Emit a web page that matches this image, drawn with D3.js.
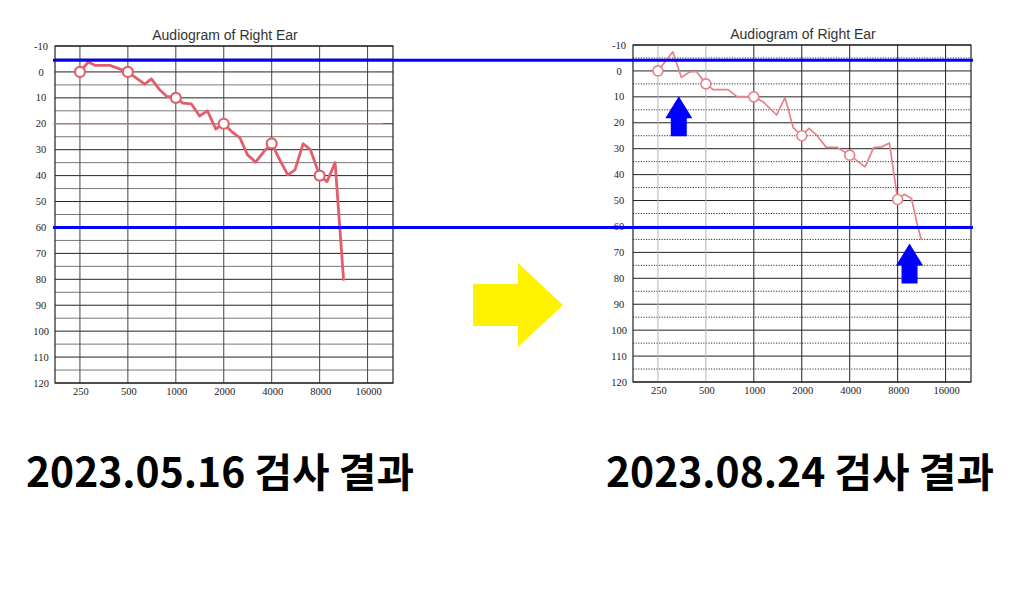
<!DOCTYPE html>
<html><head><meta charset="utf-8">
<script src="https://cdn.jsdelivr.net/npm/d3@7/dist/d3.min.js"></script>
<style>body{margin:0;background:#fff}svg{display:block}</style>
</head><body>
<svg id="c" width="1017" height="600"></svg>
<script>
// ---------- data ----------
const octaveFreqs = [250, 500, 1000, 2000, 4000, 8000, 16000];
const octaveLabels = ["250", "500", "1000", "2000", "4000", "8000", "16000"];
const dbTicks = [-10, 0, 10, 20, 30, 40, 50, 60, 70, 80, 90, 100, 110, 120];
const minorDbTicks = [-5, 5, 15, 25, 35, 45, 55, 65, 75, 85, 95, 105, 115];
const titles = ["Audiogram of Right Ear", "Audiogram of Right Ear"];
const captions = ["2023.05.16 검사 결과", "2023.08.24 검사 결과"];

// 2023.05.16 curve
const mayFreq = [250, 282, 312, 385, 500, 637, 702, 795, 875, 1000, 1110, 1250, 1410, 1580, 1780, 2000, 2240, 2520, 2820, 3170, 3600, 4000, 4500, 5050, 5600, 6300, 7000, 8000, 8900, 10000, 11300];
const mayDb   = [0, -3.8, -2.5, -2.5, 0, 4.7, 2.7, 7, 9.4, 10, 12, 12.3, 17, 15, 22, 20, 23, 25.3, 32, 34.8, 30.5, 27.6, 34, 39.7, 37.8, 27.7, 30, 40, 42.3, 35, 80];
const mayTestFreq = [250, 500, 1000, 2000, 4000, 8000];
const mayTestDb   = [0, 0, 10, 20, 27.6, 40];
const mayRefDb = [20];

// 2023.08.24 curve
const augFreq = [250, 310, 351, 395, 436, 500, 555, 690, 780, 1000, 1150, 1390, 1570, 1770, 2000, 2220, 2500, 2850, 3340, 4000, 5000, 5650, 6370, 7100, 8000, 8800, 9770, 10600, 11240];
const augDb   = [0, -7.4, 2.5, 0.4, 0.2, 5, 7.2, 7.2, 9.8, 10, 12, 17, 10.3, 22, 25, 22.2, 25, 29.5, 29.5, 32.5, 37, 29.6, 29.3, 27.8, 49.6, 47.6, 49.2, 59, 65];
const augTestFreq = [250, 500, 1000, 2000, 4000, 8000];
const augTestDb   = [0, 5, 10, 25, 32.5, 49.6];

// annotations
const markerDb = [-4.5, 60];          // blue reference lines (left chart scale)
const arrowFreq = [338, 9500];        // blue arrows on right chart
const arrowTipDb = [9.8, 66.6];

// ---------- layout ----------
const svg = d3.select("#c");
const panels = [
  {left: 55, top: 46, w: 338, h: 337, title: titles[0], caption: captions[0],
   freq: mayFreq, db: mayDb, tf: mayTestFreq, tdb: mayTestDb,
   line: "#e35d6c", lw: 2.8, cw: 2.2, minorDash: null, refs: mayRefDb, capX: 26},
  {left: 633, top: 45, w: 338, h: 337, title: titles[1], caption: captions[1],
   freq: augFreq, db: augDb, tf: augTestFreq, tdb: augTestDb,
   line: "#e8808a", lw: 1.7, cw: 1.6, minorDash: "1.2,1.4", refs: [], capX: 606}
];

panels.forEach((p, i) => {
  const x = d3.scaleLog().base(2)
    .domain([250 / Math.pow(2, 0.52), 16000 * Math.pow(2, 0.53)])
    .range([p.left, p.left + p.w]);
  const y = d3.scaleLinear().domain([-10, 120]).range([p.top, p.top + p.h]);
  p.x = x; p.y = y;
  const g = svg.append("g");

  // minor horizontal grid
  g.selectAll(".mn").data(minorDbTicks).join("line")
    .attr("x1", p.left).attr("x2", p.left + p.w)
    .attr("y1", d => y(d)).attr("y2", d => y(d))
    .attr("stroke", i === 0 ? "#555" : "#333")
    .attr("stroke-width", i === 0 ? 0.8 : 1)
    .attr("stroke-dasharray", p.minorDash);
  // major horizontal grid
  g.selectAll(".mj").data(dbTicks).join("line")
    .attr("x1", p.left).attr("x2", p.left + p.w)
    .attr("y1", d => y(d)).attr("y2", d => y(d))
    .attr("stroke", "#222").attr("stroke-width", 1);
  // vertical grid
  g.selectAll(".vg").data(octaveFreqs).join("line")
    .attr("x1", d => x(d)).attr("x2", d => x(d))
    .attr("y1", p.top).attr("y2", p.top + p.h)
    .attr("stroke", (d, k) => i === 1 && k < 2 ? "#b5b5b5" : (i === 0 ? "#444" : "#222"))
    .attr("stroke-width", 1);
  // frame
  g.append("rect").attr("x", p.left).attr("y", p.top)
    .attr("width", p.w).attr("height", p.h)
    .attr("fill", "none").attr("stroke", "#222").attr("stroke-width", 1.2);

  // reference line (thin red)
  g.selectAll(".ref").data(p.refs).join("line")
    .attr("x1", p.left - 2).attr("x2", x(20000))
    .attr("y1", d => y(d)).attr("y2", d => y(d))
    .attr("stroke", "#d9868e").attr("stroke-width", 1.1);

  // y tick labels
  g.selectAll(".yl").data(dbTicks).join("text")
    .attr("x", p.left - 14).attr("y", d => y(d) + 3.6)
    .attr("text-anchor", "middle")
    .attr("font-family", "Liberation Serif, serif").attr("font-size", 10.5)
    .attr("fill", "#222").text(d => d);
  // x tick labels
  g.selectAll(".xl").data(octaveFreqs).join("text")
    .attr("x", d => x(d) + 1).attr("y", p.top + p.h + 12)
    .attr("text-anchor", "middle")
    .attr("font-family", "Liberation Serif, serif").attr("font-size", 10.5)
    .attr("fill", "#222").text((d, k) => octaveLabels[k]);

  // title
  g.append("text").attr("x", p.left + p.w / 2 + 1).attr("y", p.top - 6)
    .attr("text-anchor", "middle")
    .attr("font-family", "Liberation Sans, Arial, sans-serif").attr("font-size", 14)
    .attr("fill", "#333").text(p.title);

  // curve
  const pts = p.freq.map((f, k) => [f, p.db[k]]);
  g.append("path").datum(pts)
    .attr("d", d3.line().x(d => x(d[0])).y(d => y(d[1])))
    .attr("fill", "none").attr("stroke", p.line)
    .attr("stroke-width", p.lw).attr("stroke-linejoin", "round").attr("stroke-linecap", "round");
  // test markers
  g.selectAll(".mk").data(p.tf).join("circle")
    .attr("cx", d => x(d)).attr("cy", (d, k) => y(p.tdb[k]))
    .attr("r", 5).attr("fill", "#fff")
    .attr("stroke", p.line).attr("stroke-width", p.cw);

  // caption
  svg.append("text").attr("x", p.capX).attr("y", 487)
    .attr("font-family", "Noto Sans CJK KR, sans-serif").attr("font-weight", 700)
    .attr("font-size", 40).attr("fill", "#000")
    .attr("textLength", 388).attr("lengthAdjust", "spacingAndGlyphs")
    .text(p.caption);
});

// blue reference lines across both charts
const L = panels[0], R = panels[1];
svg.selectAll(".blue").data(markerDb).join("line")
  .attr("x1", L.left - 2).attr("x2", R.left + R.w + 2)
  .attr("y1", d => L.y(d)).attr("y2", d => L.y(d))
  .attr("stroke", "#0000ff").attr("stroke-width", 3);

// blue up-arrows on right chart
const aW = 27, sW = 16, hH = 22, tot = 40;
svg.selectAll(".arr").data(arrowFreq).join("path")
  .attr("transform", (d, k) => `translate(${R.x(d)},${R.y(arrowTipDb[k])})`)
  .attr("d", `M0,0 L${aW/2},${hH} L${sW/2},${hH} L${sW/2},${tot} L${-sW/2},${tot} L${-sW/2},${hH} L${-aW/2},${hH} Z`)
  .attr("fill", "#0000ff");

// yellow arrow between charts
const cx = (L.left + L.w + R.left) / 2 + 5, cy = 305;
svg.append("path")
  .attr("transform", `translate(${cx},${cy})`)
  .attr("d", "M-45,-21 L0,-21 L0,-42 L45,0 L0,42 L0,21 L-45,21 Z")
  .attr("fill", "#fff200");
</script>
</body></html>
